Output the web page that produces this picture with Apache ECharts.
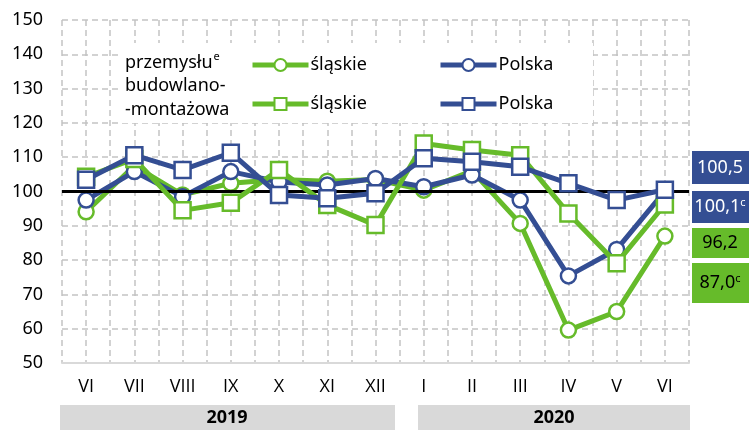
<!DOCTYPE html>
<html><head><meta charset="utf-8">
<script src="https://cdn.jsdelivr.net/npm/echarts@6/dist/echarts.min.js"></script>
<style>html,body{margin:0;padding:0;background:#fff}#c{width:749px;height:430px}</style>
</head><body><div id="c"></div>
<script>
const months = ['VI','VII','VIII','IX','X','XI','XII','I','II','III','IV','V','VI'];
const years = ['2019','2020'];
const slaskieIndustry = [94.1,107.5,99.0,102.4,103.5,103.0,103.5,100.4,106.0,90.7,59.6,65.0,87.0];
const polskaIndustry = [97.5,105.8,98.5,105.8,102.8,101.9,103.8,101.4,104.8,97.5,75.4,83.1,100.1];
const slaskieConstruction = [104.3,109.5,94.5,96.7,106.3,96.1,90.2,114.0,112.1,110.6,93.6,79.1,96.2];
const polskaConstruction = [103.4,110.6,106.3,111.3,99.0,98.0,99.5,109.7,108.7,107.2,102.4,97.5,100.5];
const endNotes = {industry: 'c', construction: ''};

const GREEN = '#66bb2a', BLUE = '#344e93';
const FONT = 'Noto Sans';
const fmt = v => v.toFixed(1).replace('.', ',');
const last = a => a[a.length - 1];

function mkSeries(name, data, color, symbol, size, z) {
  return {
    name, type: 'line', data, z,
    symbol, symbolSize: size, showSymbol: true,
    lineStyle: {color, width: 5},
    itemStyle: {color: '#fff', borderColor: color, borderWidth: 2.5},
    emphasis: {disabled: true}, animation: false
  };
}

const chart = echarts.init(document.getElementById('c'), null, {renderer: 'canvas'});
const legendBase = {orient: 'horizontal', padding: 0, itemWidth: 56, itemHeight: 15, itemGap: 0,
  lineStyle: {width: 5},
  textStyle: {fontFamily: FONT, fontSize: 18, color: '#000', padding: [0,0,0,-3]}, selectedMode: false};

function labelBox(y, h, val, note, bg, fg) {
  return [
    {type: 'rect', shape: {x: 692, y: y, width: 57, height: h}, style: {fill: bg}, z: 20},
    {type: 'text', x: 720, y: y + h / 2, z: 21,
      style: {text: '{a|' + fmt(val) + '}' + (note ? '{s|' + note + '}' : ''), align: 'center', verticalAlign: 'middle',
        rich: {a: {fontFamily: FONT, fontSize: 18, fill: fg}, s: {fontFamily: FONT, fontSize: 11, fill: fg, verticalAlign: 'top', padding: [0,0,8,0]}}}}
  ];
}

chart.setOption({
  animation: false,
  textStyle: {fontFamily: FONT},
  grid: {left: 62, right: 60, top: 20, bottom: 67, containLabel: false},
  xAxis: [
    {type: 'category', data: months, boundaryGap: true,
     axisLine: {lineStyle: {color: '#d9d9d9', width: 2}}, axisTick: {show: false},
     axisLabel: {fontFamily: 'Open Sans', fontSize: 18, color: '#000', margin: 15},
     splitLine: {show: false}},
    {type: 'value', min: 0, max: months.length * 2, interval: 1, position: 'bottom',
     axisLine: {show: false}, axisTick: {show: false}, axisLabel: {show: false},
     splitLine: {show: true, lineStyle: {color: '#c4c4c4', width: 1.5, type: [6, 4]}}}
  ],
  yAxis: {type: 'value', min: 50, max: 150, interval: 10,
    axisLine: {show: false}, axisTick: {show: false},
    axisLabel: {fontFamily: FONT, fontSize: 18, color: '#000', margin: 19},
    splitLine: {show: true, lineStyle: {color: '#c4c4c4', width: 1.5, type: [6, 4]}}},
  legend: [
    Object.assign({}, legendBase, {left: 250, top: 56, data: ['śląskie']}),
    Object.assign({}, legendBase, {left: 438, top: 56, data: ['Polska']}),
    Object.assign({}, legendBase, {left: 250, top: 95, data: ['śląskie ']}),
    Object.assign({}, legendBase, {left: 438, top: 95, data: ['Polska ']})
  ],
  series: [
    mkSeries('śląskie', slaskieIndustry, GREEN, 'circle', 15, 3),
    mkSeries('Polska', polskaIndustry, BLUE, 'circle', 15, 4),
    mkSeries('śląskie ', slaskieConstruction, GREEN, 'rect', 16, 5),
    mkSeries('Polska ', polskaConstruction, BLUE, 'rect', 16, 6),
    {type: 'line', data: [], z: 10, silent: true, animation: false,
     markLine: {silent: true, symbol: 'none', label: {show: false},
       lineStyle: {color: '#000', width: 3, type: 'solid'}, data: [{yAxis: 100}]}}
  ],
  graphic: [
    {type: 'rect', shape: {x: 120, y: 43, width: 473, height: 80}, style: {fill: '#fff'}, z: 1},
    {type: 'text', x: 125, y: 51, z: 2,
     style: {text: '{a|przemysłu}{s|e}\n{a|budowlano-}\n{a|-montażowa}', lineHeight: 23.5,
       rich: {a: {fontFamily: FONT, fontSize: 18, fill: '#000', lineHeight: 23.5},
              s: {fontFamily: FONT, fontSize: 11, fill: '#000', verticalAlign: 'top', padding: [0,0,8,1]}}}},
    {type: 'rect', shape: {x: 60, y: 405, width: 335, height: 25}, style: {fill: '#d9d9d9'}},
    {type: 'text', x: 227, y: 418, style: {text: years[0], align: 'center', verticalAlign: 'middle', font: 'bold 18px "Noto Sans"', fill: '#000'}},
    {type: 'rect', shape: {x: 418, y: 405, width: 272, height: 25}, style: {fill: '#d9d9d9'}},
    {type: 'text', x: 554, y: 418, style: {text: years[1], align: 'center', verticalAlign: 'middle', font: 'bold 18px "Noto Sans"', fill: '#000'}},
    ...labelBox(151, 33, last(polskaConstruction), endNotes.construction, BLUE, '#fff'),
    ...labelBox(191, 32, last(polskaIndustry), endNotes.industry, BLUE, '#fff'),
    ...labelBox(228, 30, last(slaskieConstruction), endNotes.construction, GREEN, '#000'),
    ...labelBox(263, 40, last(slaskieIndustry), endNotes.industry, GREEN, '#000')
  ]
});
</script></body></html>
